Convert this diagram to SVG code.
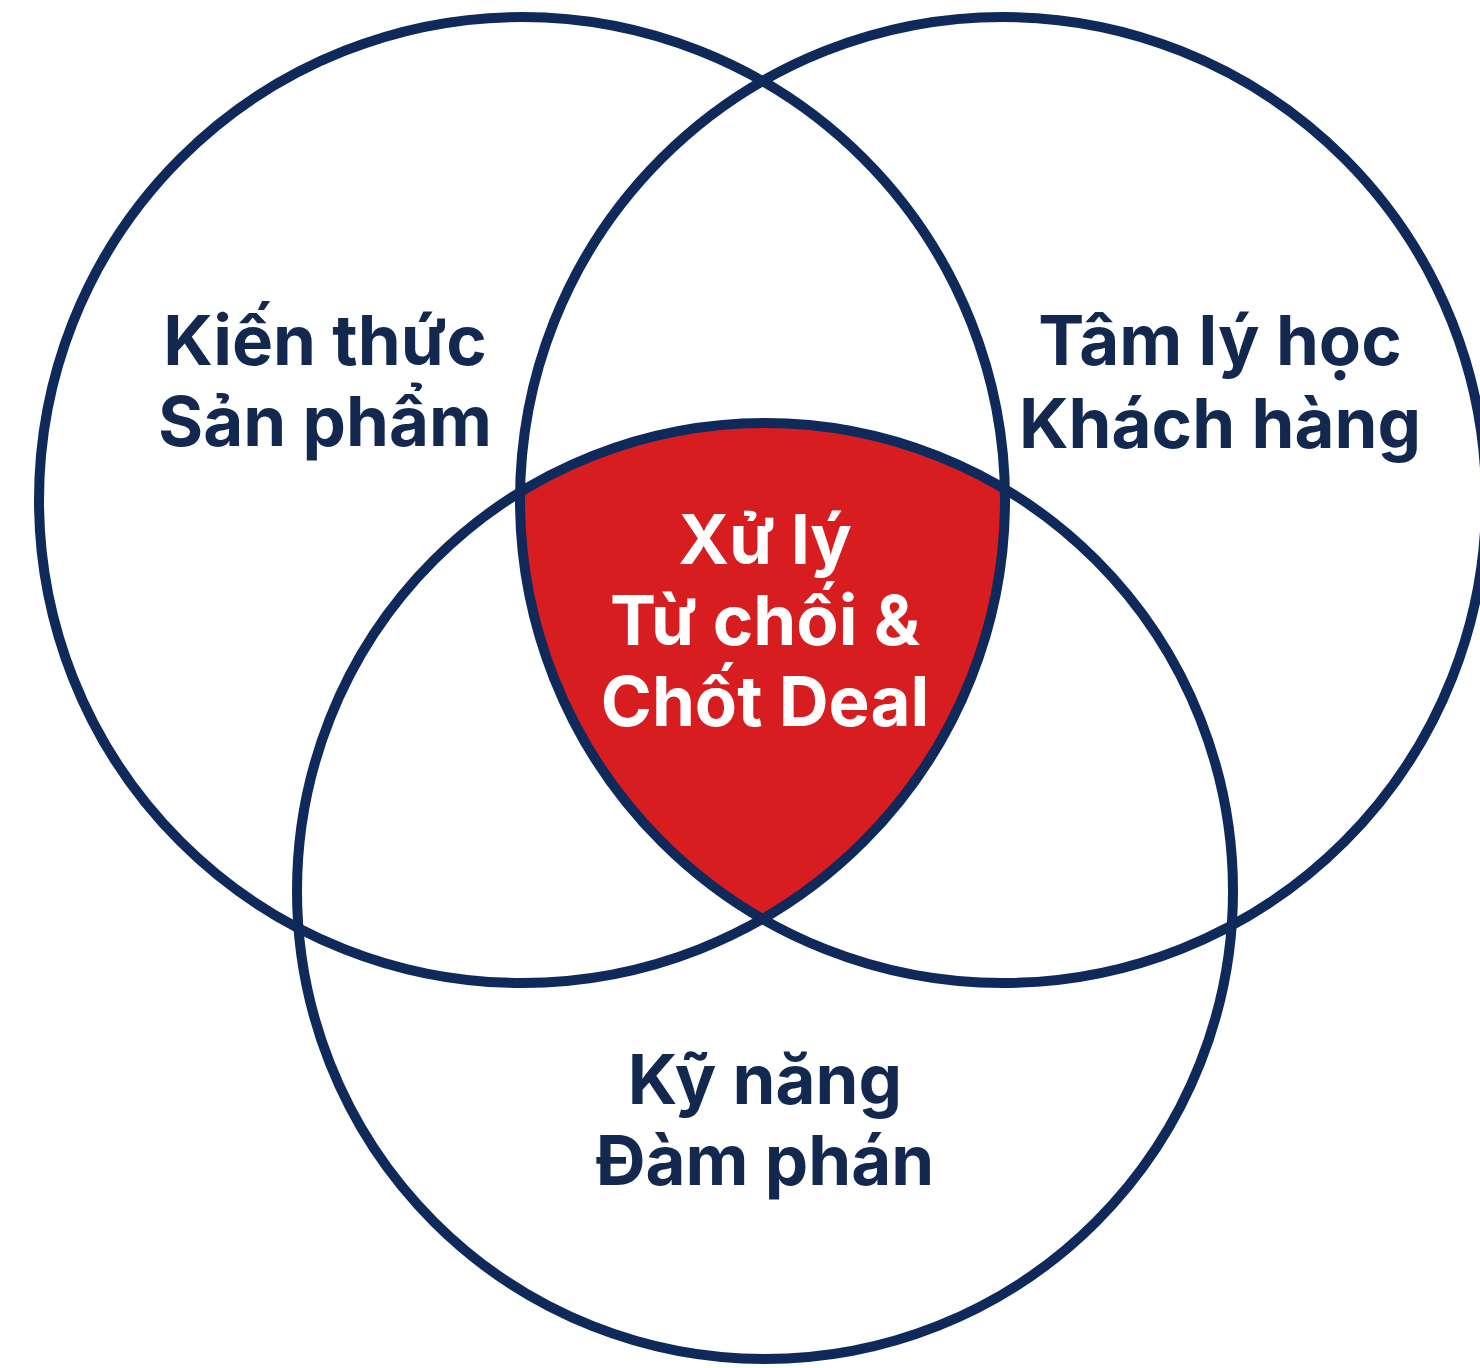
<svg xmlns="http://www.w3.org/2000/svg" width="1480" height="1368" viewBox="0 0 1480 1368">
<style>
.ring{fill:none;stroke:#0f2a5a;stroke-width:10}
.lbl{font-family:Inter,"Noto Sans","Liberation Sans",sans-serif;font-weight:700;font-size:69px;fill:#13284f;text-anchor:middle}
.ctr{fill:#ffffff}
</style>
<defs>
<clipPath id="clipL"><circle cx="522" cy="500" r="483"/></clipPath>
<clipPath id="clipR"><circle cx="1003" cy="500" r="483"/></clipPath>
</defs>
<rect width="1480" height="1368" fill="#ffffff"/>
<g id="center-fill" clip-path="url(#clipL)">
<g clip-path="url(#clipR)">
<circle cx="765" cy="891" r="468" fill="#d81d20"/>
</g>
</g>
<g id="connectors">
<circle class="ring" cx="522" cy="500" r="483"/>
<circle class="ring" cx="1003" cy="500" r="483"/>
<circle class="ring" cx="765" cy="891" r="468"/>
</g>
<g id="node-product">
<text class="lbl" x="325" y="365">Kiến thức</text>
<text class="lbl" x="325" y="446">Sản phẩm</text>
</g>
<g id="node-psychology">
<text class="lbl" x="1220" y="365">Tâm lý học</text>
<text class="lbl" x="1220" y="448">Khách hàng</text>
</g>
<g id="node-negotiation">
<text class="lbl" x="765" y="1104">Kỹ năng</text>
<text class="lbl" x="765" y="1185">Đàm phán</text>
</g>
<g id="node-center">
<text class="lbl ctr" x="765" y="564">Xử lý</text>
<text class="lbl ctr" x="765" y="645">Từ chối &amp;</text>
<text class="lbl ctr" x="765" y="726">Chốt Deal</text>
</g>
</svg>
